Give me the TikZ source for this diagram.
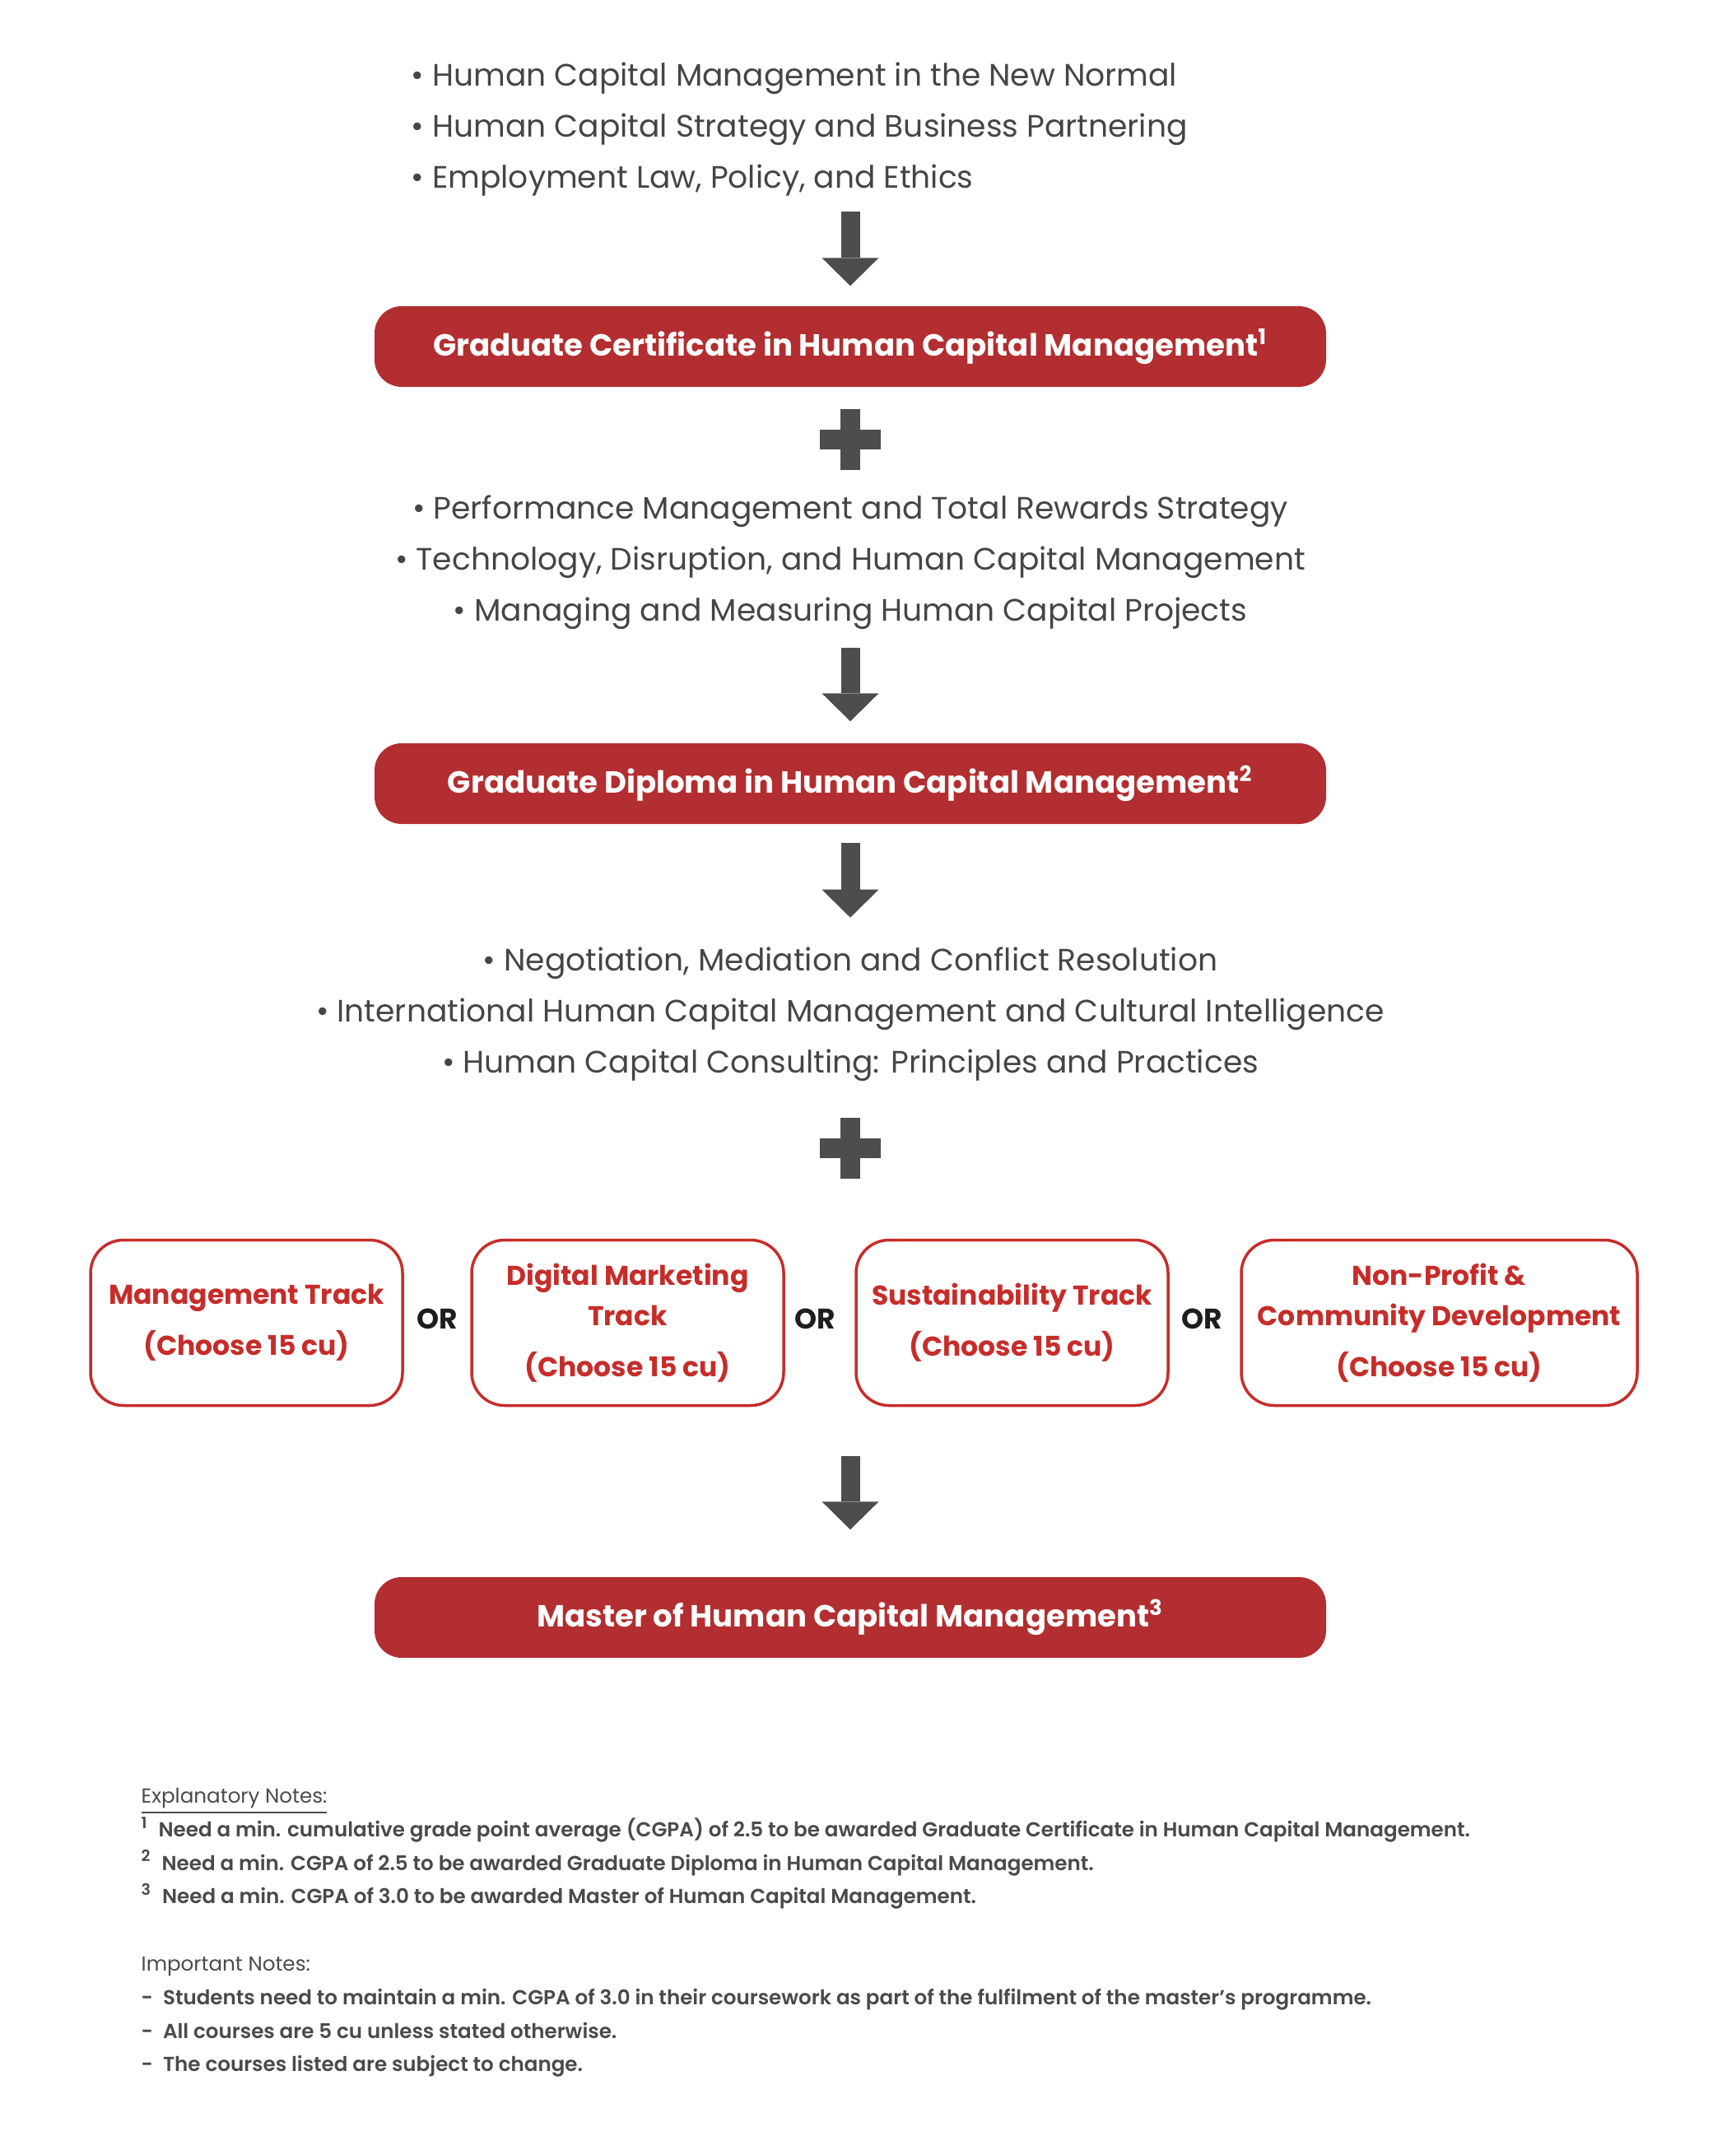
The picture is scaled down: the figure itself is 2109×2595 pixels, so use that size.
\documentclass[tikz,border=0pt]{standalone}
\usepackage{fontspec}
\setmainfont{Poppins}
\newfontfamily\semifont{Poppins SemiBold}
\usetikzlibrary{arrows.meta, positioning}

\definecolor{awardred}{HTML}{B22E30}
\definecolor{trackred}{HTML}{C62D2A}
\definecolor{bodygray}{HTML}{454545}
\definecolor{notegray}{HTML}{4A4A4A}
\definecolor{arrowgray}{HTML}{4D4D4D}
\definecolor{orblack}{HTML}{1E1E1E}

\newcommand{\notenum}[1]{\raisebox{0.75ex}{\fontsize{5.4}{6}\selectfont #1}\hspace{1.4mm}}
\newcommand{\notedash}{-\hspace{1.2mm}}

\tikzset{
  courselist/.style={text=bodygray, inner sep=0pt, font=\fontsize{10.7}{17.6}\selectfont},
  award/.style={fill=awardred, text=white, rounded corners=3.3mm, inner sep=0pt,
    minimum width=115.6mm, minimum height=9.8mm, font=\bfseries\fontsize{10.55}{12}\selectfont},
  track/.style={draw=trackred, line width=0.35mm, rounded corners=4mm, text=trackred,
    minimum height=20.1mm, align=center, inner sep=0pt,
    font=\bfseries\fontsize{9.4}{13.9}\selectfont},
  ortext/.style={text=orblack, font=\bfseries\fontsize{9.8}{12}\selectfont},
  downarrow/.style={arrowgray, line width=2.3mm,
    -{Triangle[width=6.9mm, length=3.4mm, line width=0pt]}},
  plussign/.style={fill=arrowgray},
  notes/.style={text=notegray, inner sep=0pt, align=left, font=\fontsize{7}{11.6}\selectfont}
}

\begin{document}
\begin{tikzpicture}[x=0.1mm, y=-0.1mm]
\fill[white] (0,0) rectangle (2109,2595);
\useasboundingbox (0,0) rectangle (2109,2595);
% first three courses
\node[courselist, align=left, anchor=west] (core1) at (499,157)
  {• Human Capital Management in the New Normal\\
   • Human Capital Strategy and Business Partnering\\
   • Employment Law, Policy, and Ethics};
\node[award] (cert) at (1033,421)
  {Graduate Certificate in Human Capital Management\textsuperscript{1}};
\draw[downarrow] (cert.north) ++(0,-114) -- ++(0,90);
%
\coordinate (plus1) at (1033,534);
\fill[plussign] ([shift={(-37,-12)}]plus1) rectangle ([shift={(37,12)}]plus1);
\fill[plussign] ([shift={(-12,-37)}]plus1) rectangle ([shift={(12,37)}]plus1);
\node[courselist, align=center] (core2) at (1033,683)
  {• Performance Management and Total Rewards Strategy\\
   • Technology, Disruption, and Human Capital Management\\
   • Managing and Measuring Human Capital Projects};
\node[award] (dipl) at (1033,952)
  {Graduate Diploma in Human Capital Management\textsuperscript{2}};
\draw[downarrow] (dipl.north) ++(0,-115) -- ++(0,89);
\draw[downarrow] (dipl.south) ++(0,22) -- ++(0,91);
%
\node[courselist, align=center] (core3) at (1033,1232)
  {• Negotiation, Mediation and Conflict Resolution\\
   • International Human Capital Management and Cultural Intelligence\\
   • Human Capital Consulting: Principles and Practices};
\coordinate (plus2) at (1033,1395);
\fill[plussign] ([shift={(-37,-12)}]plus2) rectangle ([shift={(37,12)}]plus2);
\fill[plussign] ([shift={(-12,-37)}]plus2) rectangle ([shift={(12,37)}]plus2);
% tracks
\node[track, minimum width=37.9mm] (mgmt) at (299.5,1607)
  {Management Track\\[1.3mm](Choose 15 cu)};
\node[track, minimum width=37.9mm] (digital) at (762.5,1607)
  {Digital Marketing\\Track\\[1.3mm](Choose 15 cu)};
\node[track, minimum width=37.9mm] (sustain) at (1229.5,1607)
  {Sustainability Track\\[1.3mm](Choose 15 cu)};
\node[track, minimum width=48.1mm] (nonprofit) at (1748.5,1607)
  {Non-Profit \&\\Community Development\\[1.3mm](Choose 15 cu)};
\node[ortext] (or1) at (531,1602) {OR};
\node[ortext] (or2) at (990,1602) {OR};
\node[ortext] (or3) at (1460,1602) {OR};
%
\node[award] (master) at (1033,1965)
  {Master of Human Capital Management\textsuperscript{3}};
\draw[downarrow] (master.north) ++(0,-146) -- ++(0,89);
% notes
\node[notes, anchor=west] (explain) at (171,2348)
  {\underline{Explanatory Notes:}\\
   {\semifont\notenum{1}Need a min. cumulative grade point average (CGPA) of 2.5 to be awarded Graduate Certificate in Human Capital Management.}\\
   {\semifont\notenum{2}Need a min. CGPA of 2.5 to be awarded Graduate Diploma in Human Capital Management.}\\
   {\semifont\notenum{3}Need a min. CGPA of 3.0 to be awarded Master of Human Capital Management.}\\[4.1mm]
   Important Notes:\\
   {\semifont\notedash Students need to maintain a min. CGPA of 3.0 in their coursework as part of the fulfilment of the master’s programme.}\\
   {\semifont\notedash All courses are 5 cu unless stated otherwise.}\\
   {\semifont\notedash The courses listed are subject to change.}};
\end{tikzpicture}
\end{document}
